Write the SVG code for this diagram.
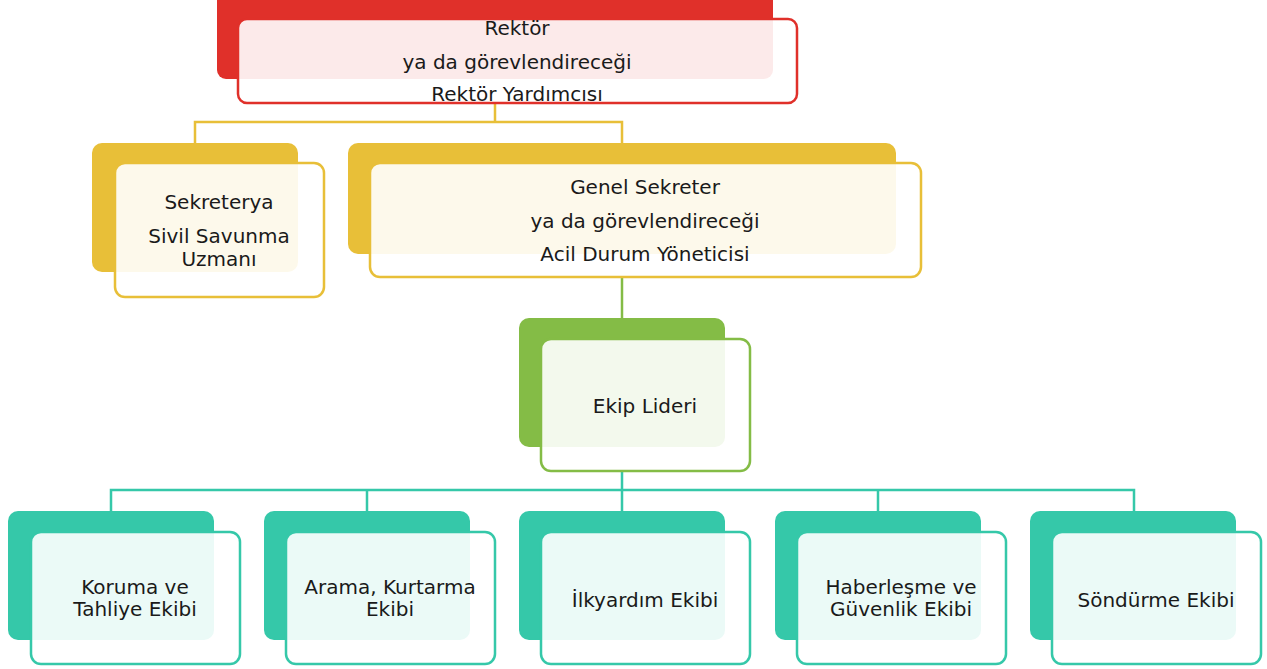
<svg xmlns="http://www.w3.org/2000/svg" width="1267" height="669" viewBox="0 0 1267 669">
<style>
.t{font-family:"DejaVu Sans","Liberation Sans",sans-serif;font-size:20px;fill:#1a1a1a;text-anchor:middle}
.front{fill:#ffffff;fill-opacity:0.9;stroke-width:2.5}
.c{fill:none;stroke-width:2.5}
</style>
<rect width="1267" height="669" fill="#ffffff"/>
<g id="connectors">
<path class="c" stroke="#E8BF38" d="M495,103 V122 M195,143 V122 H622 V143"/>
<path class="c" stroke="#84BC46" d="M622,277 V318"/>
<path class="c" stroke="#35C8A9" d="M622,471 V490 M111,511 V490 H1134 V511 M367,490 V511 M622,490 V511 M878,490 V511"/>
</g>
<g id="rektor">
<rect x="217" y="-12" width="556" height="91" rx="9" fill="#E0302A"/>
<rect class="front" x="238" y="19" width="559" height="84" rx="9" stroke="#E0302A"/>
<text class="t" x="517" y="35">Rektör</text>
<text class="t" x="517" y="69">ya da görevlendireceği</text>
<text class="t" x="517" y="101">Rektör Yardımcısı</text>
</g>
<g id="sekreterya">
<rect x="92" y="143" width="206" height="129" rx="10" fill="#E8BF38"/>
<rect class="front" x="115" y="163" width="209" height="134" rx="10" stroke="#E8BF38"/>
<text class="t" x="219" y="209">Sekreterya</text>
<text class="t" x="219" y="243">Sivil Savunma</text>
<text class="t" x="219" y="266">Uzmanı</text>
</g>
<g id="genel-sekreter">
<rect x="348" y="143" width="548" height="111" rx="10" fill="#E8BF38"/>
<rect class="front" x="370" y="163" width="551" height="114" rx="10" stroke="#E8BF38"/>
<text class="t" x="645" y="194">Genel Sekreter</text>
<text class="t" x="645" y="228">ya da görevlendireceği</text>
<text class="t" x="645" y="261">Acil Durum Yöneticisi</text>
</g>
<g id="ekip-lideri">
<rect x="519" y="318" width="206" height="129" rx="10" fill="#84BC46"/>
<rect class="front" x="541" y="339" width="209" height="132" rx="10" stroke="#84BC46"/>
<text class="t" x="645" y="413">Ekip Lideri</text>
</g>
<g id="koruma">
<rect x="8" y="511" width="206" height="129" rx="10" fill="#35C8A9"/>
<rect class="front" x="31" y="532" width="209" height="132" rx="10" stroke="#35C8A9"/>
<text class="t" x="135" y="594">Koruma ve</text>
<text class="t" x="135" y="616">Tahliye Ekibi</text>
</g>
<g id="arama">
<rect x="264" y="511" width="206" height="129" rx="10" fill="#35C8A9"/>
<rect class="front" x="286" y="532" width="209" height="132" rx="10" stroke="#35C8A9"/>
<text class="t" x="390" y="594">Arama, Kurtarma</text>
<text class="t" x="390" y="616">Ekibi</text>
</g>
<g id="ilkyardim">
<rect x="519" y="511" width="206" height="129" rx="10" fill="#35C8A9"/>
<rect class="front" x="541" y="532" width="209" height="132" rx="10" stroke="#35C8A9"/>
<text class="t" x="645" y="607">İlkyardım Ekibi</text>
</g>
<g id="haberlesme">
<rect x="775" y="511" width="206" height="129" rx="10" fill="#35C8A9"/>
<rect class="front" x="797" y="532" width="209" height="132" rx="10" stroke="#35C8A9"/>
<text class="t" x="901" y="594">Haberleşme ve</text>
<text class="t" x="901" y="616">Güvenlik Ekibi</text>
</g>
<g id="sondurme">
<rect x="1030" y="511" width="206" height="129" rx="10" fill="#35C8A9"/>
<rect class="front" x="1052" y="532" width="209" height="132" rx="10" stroke="#35C8A9"/>
<text class="t" x="1156" y="607">Söndürme Ekibi</text>
</g>
</svg>
